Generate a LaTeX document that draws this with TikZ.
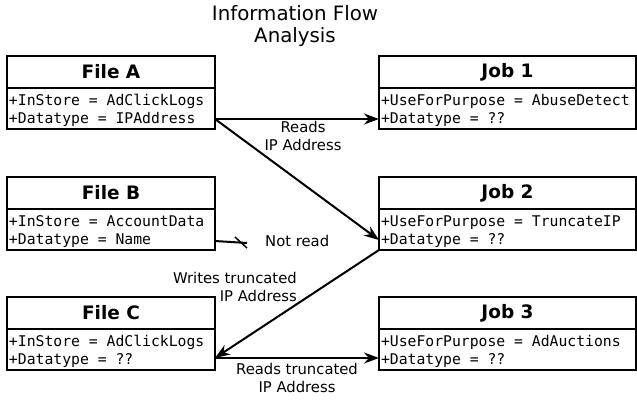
\documentclass[tikz,border=0pt]{standalone}
\usepackage{fontspec}
\setmainfont{DejaVu Sans}
\setmonofont{DejaVu Sans Mono}
\usetikzlibrary{arrows.meta,calc}
\begin{document}
\begin{tikzpicture}[x=1pt,y=-1pt,
  titlebox/.style={draw,line width=2pt,outer sep=0pt,minimum height=32pt,inner sep=0pt,font=\fontsize{18.5}{20}\selectfont\bfseries},
  bodybox/.style={draw,line width=2pt,outer sep=0pt,minimum height=41pt,inner xsep=2pt,inner ysep=0pt,text height=16pt,align=left,anchor=north,font=\fontsize{14.75}{18}\ttfamily,execute at begin node={\spaceskip=0.602em\relax}},
  flow/.style={line width=2pt,-{Stealth[length=15pt,width=11pt]}},
  lbl/.style={font=\fontsize{14.8}{18}\selectfont,align=center,inner sep=0pt}]
\useasboundingbox (0,0) rectangle (637,399);
\node[font=\fontsize{19.8}{22.5}\selectfont,align=center] (title) at (295,26) {Information Flow\\Analysis};
% files
\node[titlebox,minimum width=208pt] (fa) at (111,72) {File A};
\node[bodybox,text width=204pt] (fab) at (fa.south) {+InStore = AdClickLogs\\+Datatype = IPAddress};
\node[titlebox,minimum width=208pt] (fb) at (111,193) {File B};
\node[bodybox,text width=204pt] (fbb) at (fb.south) {+InStore = AccountData\\+Datatype = Name};
\node[titlebox,minimum width=208pt] (fc) at (111,313) {File C};
\node[bodybox,text width=204pt] (fcb) at (fc.south) {+InStore = AdClickLogs\\+Datatype = ??};
% jobs
\node[titlebox,minimum width=257pt] (j1) at (507.5,72) {Job 1};
\node[bodybox,text width=253pt] (j1b) at (j1.south) {+UseForPurpose = AbuseDetect\\+Datatype = ??};
\node[titlebox,minimum width=257pt] (j2) at (507.5,193) {Job 2};
\node[bodybox,text width=253pt] (j2b) at (j2.south) {+UseForPurpose = TruncateIP\\+Datatype = ??};
\node[titlebox,minimum width=257pt] (j3) at (507.5,313) {Job 3};
\node[bodybox,text width=253pt] (j3b) at (j3.south) {+UseForPurpose = AdAuctions\\+Datatype = ??};
% connectors
\coordinate (aout) at ([yshift=10pt]fab.south east);
\draw[flow] (aout) -- ([yshift=10pt]j1b.south west);
\draw[flow] (aout) -- ([yshift=10pt]j2b.south west);
\node[lbl] (l1) at (303,136) {Reads\\IP Address};
\coordinate (bout) at ([yshift=9pt]fbb.south east);
\coordinate (bend) at ($(bout)+(32,2)$);
\draw[line width=2pt] (bout) -- (bend);
\draw[line width=1.5pt] ($(bout)+(20,-4)$) -- ($(bout)+(32,7)$);
\node[lbl,anchor=west] (nr) at (265,241) {Not read};
\draw[flow] (j2b.south west) -- ([yshift=12pt]fcb.south east);
\node[lbl,align=right,anchor=east] (l2) at (297,287) {Writes truncated\\IP Address};
\draw[flow] ([yshift=12pt]fcb.south east) -- ([yshift=12pt]j3b.south west);
\node[lbl] (l3) at (297,378) {Reads truncated\\IP Address};
\end{tikzpicture}
\end{document}
